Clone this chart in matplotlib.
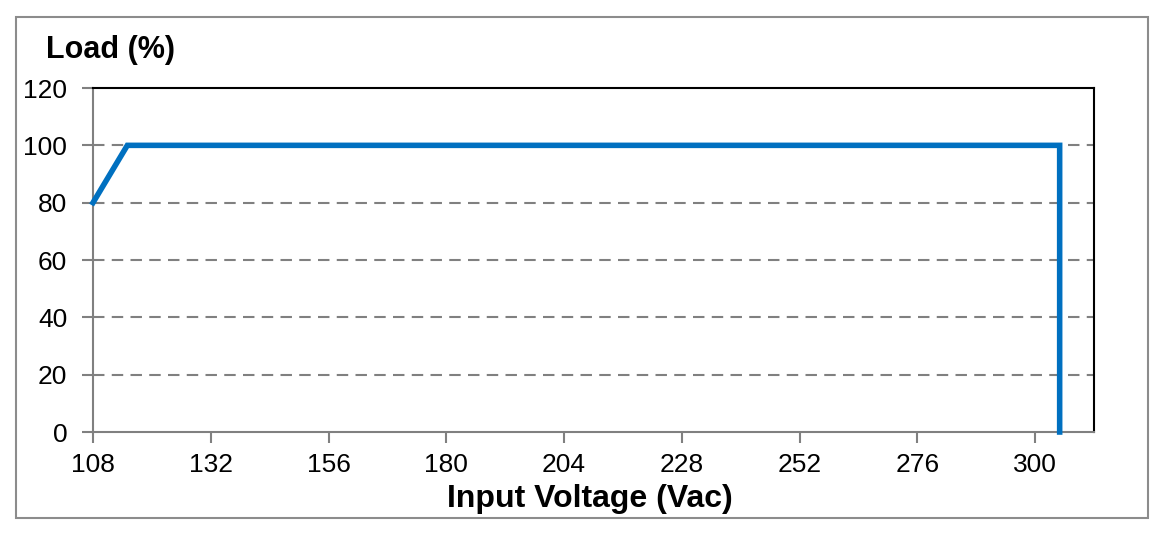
import matplotlib.pyplot as plt
from matplotlib.patches import Rectangle

plt.rcParams['font.family'] = ['Liberation Sans', 'DejaVu Sans']

# Derating curve: input voltage vs load
voltage = [108, 115, 305, 305]
load = [80, 100, 100, 0]

x_ticks = [108, 132, 156, 180, 204, 228, 252, 276, 300]
y_ticks = [0, 20, 40, 60, 80, 100, 120]

fig = plt.figure(figsize=(11.61, 5.38), dpi=100)
ax = fig.add_axes([0.0801, 0.197, 0.8622, 0.6394])

# outer gray frame
fig.patches.append(Rectangle((16 / 1161, 1 - 518 / 538), (1148 - 16) / 1161, (518 - 17) / 538,
                             transform=fig.transFigure, fill=False,
                             edgecolor='#8c8c8c', linewidth=1.5))

for y in y_ticks[1:-1]:
    ax.axhline(y, color='#808080', linewidth=1.5, linestyle=(0, (5.5, 3.5)), zorder=1)

ax.plot(voltage, load, color='#0070C0', linewidth=4, solid_joinstyle='miter', zorder=3,
        clip_on=False)

ax.set_xlim(108, 312)
ax.set_ylim(0, 120)
ax.set_xticks(x_ticks)
ax.set_yticks(y_ticks)
ax.tick_params(axis='both', labelsize=19, color='#808080', width=1.5, length=8,
               direction='out')
ax.tick_params(axis='x', pad=7)
ax.tick_params(axis='y', pad=10.5)

ax.spines['left'].set_color('#808080')
ax.spines['bottom'].set_color('#808080')
ax.spines['left'].set_linewidth(1.5)
ax.spines['bottom'].set_linewidth(1.5)
ax.spines['top'].set_color('black')
ax.spines['right'].set_color('black')
ax.spines['top'].set_linewidth(1.5)
ax.spines['right'].set_linewidth(1.5)

fig.text(590 / 1161, 1 - 507 / 538, 'Input Voltage (Vac)', fontsize=23, fontweight='bold',
         va='baseline', ha='center')
fig.text(46 / 1161, 1 - 58 / 538, 'Load (%)', fontsize=22, fontweight='bold',
         va='baseline', ha='left')

fig.savefig('out.png', dpi=100)
